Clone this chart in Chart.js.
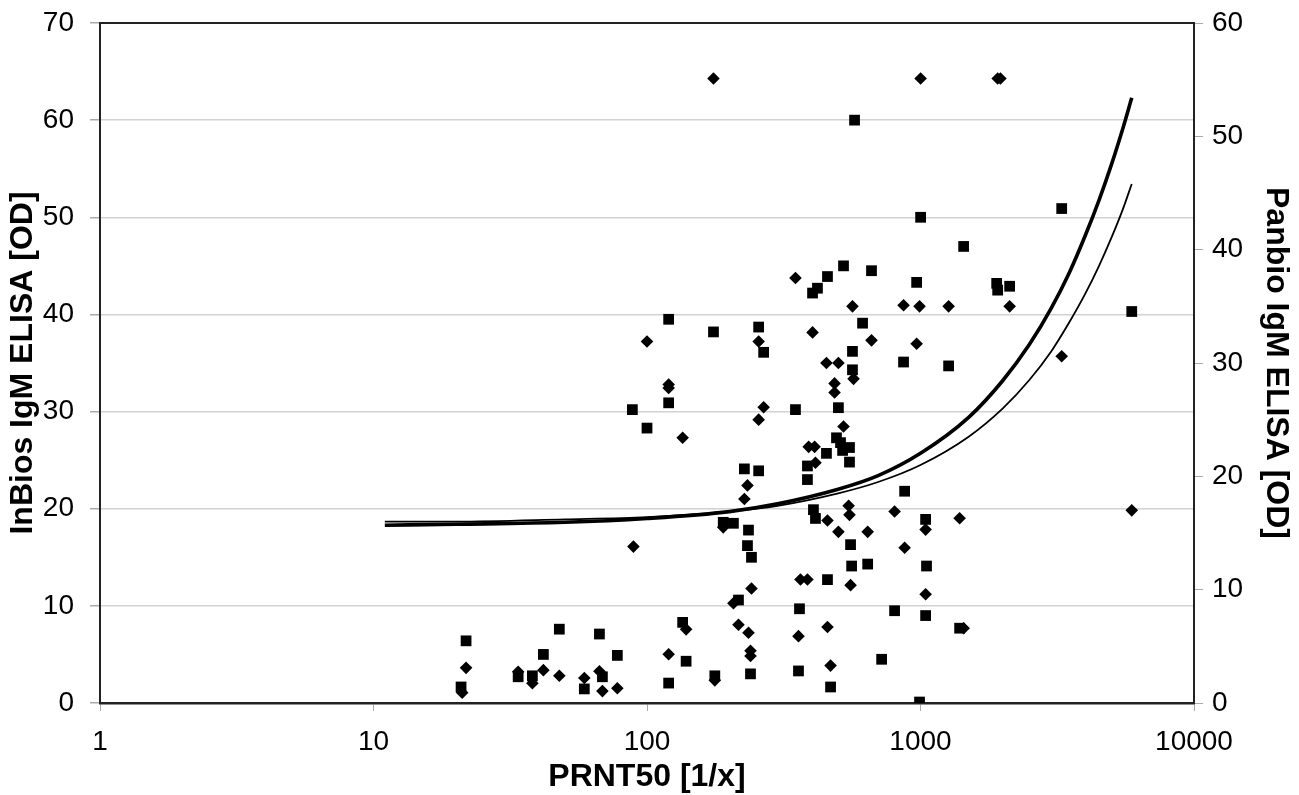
<!DOCTYPE html>
<html>
<head>
<meta charset="utf-8">
<script src="https://cdn.jsdelivr.net/npm/chart.js@4.4.1/dist/chart.umd.min.js"></script>
<style>
  html, body { margin: 0; padding: 0; background: #fff; }
  #wrap { width: 1299px; height: 795px; }
</style>
</head>
<body>
<div id="wrap"><canvas id="chart"></canvas></div>
<script>
// tick values of the log axis
const xTicks = [1, 10, 100, 1000, 10000];

// InBios IgM ELISA (squares, left axis)
const inbiosX = [20.9, 21.8, 33.8, 38.1, 41.8, 47.8, 59, 67, 68.7, 77.9, 88.4, 100, 120, 120, 120, 135, 139, 175, 177, 190,
  207, 216, 227, 233, 235, 239, 241, 256, 256, 267, 349, 358, 361, 386, 386, 403, 420, 406, 413, 453,
  457, 457, 469, 493, 510, 519, 550, 501, 523, 550, 555, 560, 564, 564, 574, 614, 641, 662, 721, 804,
  867, 875, 968, 1001, 992, 1044, 1044, 1052, 1267, 1390, 1438, 1899, 1915, 2118, 3283, 5921];
const inbiosY = [1.65, 6.4, 2.7, 2.8, 5.0, 7.6, 1.45, 7.1, 2.7, 4.9, 30.2, 28.3, 39.5, 30.9, 2.05, 8.3, 4.3, 38.2, 2.8, 18.6,
  18.5, 10.6, 24.1, 16.2, 17.8, 3.0, 15.0, 38.7, 23.9, 36.1, 30.2, 3.3, 9.7, 24.4, 23.0, 42.2, 42.7, 19.9, 19.0, 25.7,
  43.9, 12.7, 1.65, 27.3, 26.8, 26.0, 26.3, 30.4, 45.0, 24.8, 16.3, 14.1, 36.2, 34.3, 60.0, 39.1, 14.3, 44.5, 4.5, 9.5,
  35.1, 21.8, 43.3, 50.0, 0.1, 18.9, 9.0, 14.1, 34.7, 7.7, 47.0, 43.2, 42.5, 42.9, 50.9, 40.3];

// Panbio IgM ELISA (diamonds, right axis)
const panbioX = [21.1, 21.8, 33.8, 38.1, 41.8, 47.8, 59, 67, 68.7, 77.9, 89.2, 100, 120, 120, 120, 135, 139, 175, 177, 190,
  207, 216, 227, 233, 235, 239, 239, 241, 256, 256, 267, 349, 358, 364, 386, 390, 410, 403, 413, 457,
  457, 453, 501, 485, 485, 469, 523, 546, 550, 501, 641, 555, 564, 569, 662, 804, 867, 875, 968, 992,
  1001, 1044, 1044, 1267, 1390, 1438, 1915, 1960, 2118, 3283, 5921];
const panbioY = [0.9, 3.1, 2.75, 1.75, 2.9, 2.4, 2.2, 2.8, 1.05, 1.3, 13.8, 31.9, 28.1, 27.8, 4.3, 23.4, 6.5, 55.1, 2.0, 15.5,
  8.8, 6.9, 18.0, 19.2, 6.2, 4.6, 4.15, 10.1, 31.9, 25.0, 26.1, 37.5, 5.9, 10.9, 10.9, 22.6, 22.6, 32.7, 21.2, 16.1,
  6.7, 30.0, 30.0, 28.2, 27.4, 3.3, 24.4, 17.4, 16.6, 15.1, 15.1, 10.4, 35.0, 28.6, 32.0, 16.9, 35.1, 13.7, 31.7, 35.0,
  55.1, 15.3, 9.6, 35.0, 16.3, 6.6, 55.1, 55.1, 35.0, 30.6, 17.0];

// trend curves
const trendX = [11, 20, 50, 100, 200, 300, 500, 700, 1000, 1500, 2000, 2500, 3000, 3500, 4000, 4500, 5000, 5500, 5920];
const trendInbios = [18.3, 18.4, 18.6, 19.0, 19.7, 20.5, 22.0, 23.4, 25.7, 29.4, 33.2, 36.9, 40.6, 44.3, 48.1, 51.8, 55.5, 59.2, 62.3];
const trendPanbio = [16.0, 16.0, 16.2, 16.4, 16.9, 17.4, 18.5, 19.5, 21.0, 23.5, 26.0, 28.5, 31.0, 33.6, 36.1, 38.6, 41.1, 43.6, 45.8];

const pts = (xs, ys) => xs.map((x, i) => ({ x: x, y: ys[i] }));

const tickFont = { family: "'Liberation Sans', Arial, sans-serif", size: 28 };
const titleFont = { family: "'Liberation Sans', Arial, sans-serif", size: 32, weight: 'bold', lineHeight: 1 };

// keep the plot box fixed: no extra room for half tick labels
const fitY = w => s => { s.width = w; s.paddingTop = 0; s.paddingBottom = 0; };

new Chart(document.getElementById('chart'), {
  type: 'scatter',
  data: {
    datasets: [
      {
        label: 'InBios',
        data: pts(inbiosX, inbiosY),
        yAxisID: 'y',
        pointStyle: 'rect',
        pointRadius: 7.6,
        backgroundColor: '#000',
        borderColor: '#000',
        borderWidth: 0
      },
      {
        label: 'Panbio',
        data: pts(panbioX, panbioY),
        yAxisID: 'y2',
        pointStyle: 'rectRot',
        pointRadius: 6.3,
        backgroundColor: '#000',
        borderColor: '#000',
        borderWidth: 0
      },
      {
        label: 'InBios trend',
        data: pts(trendX, trendInbios),
        yAxisID: 'y',
        showLine: true,
        pointRadius: 0,
        borderColor: '#000',
        borderWidth: 3.6,
        cubicInterpolationMode: 'monotone'
      },
      {
        label: 'Panbio trend',
        data: pts(trendX, trendPanbio),
        yAxisID: 'y2',
        showLine: true,
        pointRadius: 0,
        borderColor: '#000',
        borderWidth: 1.8,
        cubicInterpolationMode: 'monotone'
      }
    ]
  },
  options: {
    responsive: true,
    maintainAspectRatio: false,
    animation: false,
    layout: { padding: 0 },
    plugins: { legend: { display: false }, tooltip: { enabled: false } },
    scales: {
      x: {
        type: 'logarithmic',
        position: 'bottom',
        min: 1,
        max: 10000,
        afterBuildTicks: s => { s.ticks = xTicks.map(v => ({ value: v })); },
        afterFit: s => { s.height = 92; s.paddingLeft = 0; s.paddingRight = 0; },
        ticks: { callback: v => String(v), font: tickFont, color: '#000', padding: 14, maxRotation: 0, autoSkip: false },
        grid: { drawOnChartArea: false, tickLength: 8, color: '#aaa' },
        border: { color: '#222', width: 2.5 },
        title: { display: true, text: 'PRNT50 [1/x]', font: titleFont, color: '#000', padding: { top: 0, bottom: 2 } }
      },
      xTop: {
        type: 'logarithmic',
        position: 'top',
        min: 1,
        max: 10000,
        afterFit: s => { s.height = 23; },
        ticks: { display: false },
        grid: { display: false },
        border: { color: '#222', width: 2 }
      },
      y: {
        position: 'left',
        min: 0,
        max: 70,
        afterFit: fitY(100),
        ticks: { stepSize: 10, font: tickFont, color: '#000', padding: 16 },
        grid: { color: '#d2d2d2', lineWidth: 1.5, tickLength: 10, tickColor: '#aaa' },
        border: { color: '#222', width: 2 },
        title: { display: true, text: 'InBios IgM ELISA [OD]', font: titleFont, color: '#000', padding: { top: 7, bottom: 0 } }
      },
      y2: {
        position: 'right',
        min: 0,
        max: 60,
        afterFit: fitY(105),
        ticks: { stepSize: 10, font: tickFont, color: '#000', padding: 9 },
        grid: { drawOnChartArea: false, tickLength: 9, color: '#aaa' },
        border: { color: '#222', width: 2 },
        title: { display: true, text: 'Panbio IgM ELISA [OD]', font: titleFont, color: '#000', padding: { top: 7, bottom: 0 } }
      }
    }
  }
});
</script>
</body>
</html>
